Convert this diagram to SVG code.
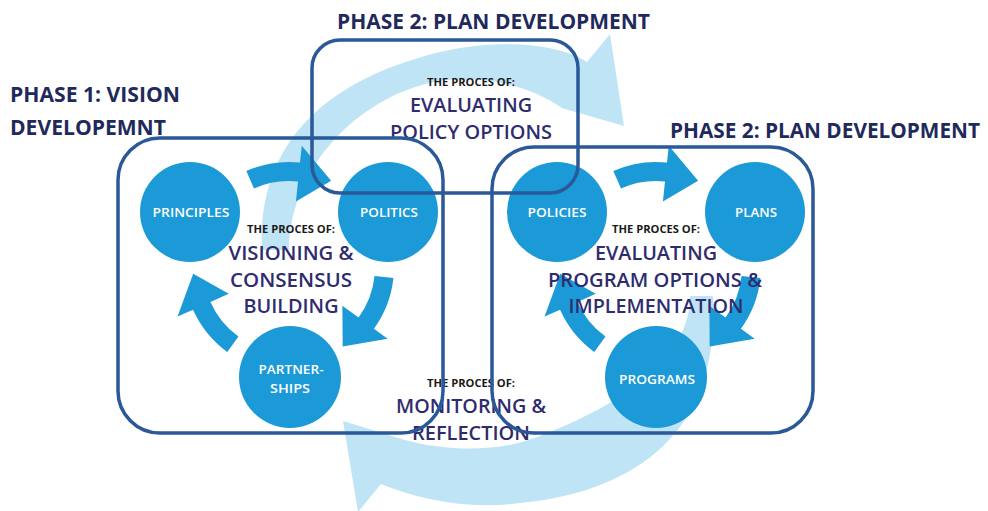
<svg xmlns="http://www.w3.org/2000/svg" width="988" height="511" viewBox="0 0 988 511">
<style>
.band{fill:#bfe4f6}
.arr{fill:#1b9ad7}
.circ{fill:#1b9ad7}
.clab{font-family:'Open Sans','Liberation Sans',sans-serif;font-weight:600;font-size:13px;fill:#ffffff}
.head{font-family:'Open Sans','Liberation Sans',sans-serif;font-weight:bold;font-size:21px;fill:#1f2a5c}
.small{font-family:'Open Sans','Liberation Sans',sans-serif;font-weight:bold;font-size:10.5px;fill:#1a1a1a}
.proc{font-family:'Open Sans','Liberation Sans',sans-serif;font-weight:600;font-size:20px;fill:#2e2c6e}
.box{fill:none;stroke:#2a5898;stroke-width:3.5}
</style>
<defs>
<path id="cyc" d="M -42.7,-95.9 A 105 105 0 0 1 11.0,-104.4 L 12.8,-121.3 L 42.1,-86.3 L 6.9,-65.6 L 9.0,-85.5 A 86 86 0 0 0 -35.0,-78.6 Z"/>
</defs>
<rect x="0" y="0" width="988" height="511" fill="#ffffff"/>
<g id="connectors">
<path class="band" d="M 262,250 C 258,160 305,85 440,52 C 500,38 560,44 587,62 L 610,34 L 624,126 L 562,108 C 530,86 490,76 445,80 C 362,92 290,165 289,250 Z"/>
<path class="band" d="M 713,296 C 720,420 650,490 520,503 C 470,510 420,500 381,484 L 358,512 L 343,421 L 405,440 C 450,452 500,452 540,436 C 620,405 690,360 690,296 Z"/>
<use href="#cyc" class="arr" transform="translate(289,267)"/>
<use href="#cyc" class="arr" transform="translate(289,267) rotate(120)"/>
<use href="#cyc" class="arr" transform="translate(289,267) rotate(240)"/>
<use href="#cyc" class="arr" transform="translate(656,267)"/>
<use href="#cyc" class="arr" transform="translate(656,267) rotate(120)"/>
<use href="#cyc" class="arr" transform="translate(656,267) rotate(240)"/>
</g>
<g id="principles"><circle class="circ" cx="190" cy="212" r="50"/><text class="clab" x="191" y="217" text-anchor="middle" textLength="77" lengthAdjust="spacingAndGlyphs">PRINCIPLES</text></g>
<g id="politics"><circle class="circ" cx="388" cy="212" r="50"/><text class="clab" x="389" y="217" text-anchor="middle" textLength="58" lengthAdjust="spacingAndGlyphs">POLITICS</text></g>
<g id="partnerships"><circle class="circ" cx="290" cy="377" r="51"/><text class="clab" x="291" y="374" text-anchor="middle" textLength="65" lengthAdjust="spacingAndGlyphs">PARTNER-</text><text class="clab" x="290" y="393" text-anchor="middle" textLength="40" lengthAdjust="spacingAndGlyphs">SHIPS</text></g>
<g id="policies"><circle class="circ" cx="557" cy="212" r="50"/><text class="clab" x="557" y="217" text-anchor="middle" textLength="59" lengthAdjust="spacingAndGlyphs">POLICIES</text></g>
<g id="plans"><circle class="circ" cx="755" cy="212" r="50"/><text class="clab" x="756" y="217" text-anchor="middle" textLength="42" lengthAdjust="spacingAndGlyphs">PLANS</text></g>
<g id="programs"><circle class="circ" cx="656" cy="377" r="51"/><text class="clab" x="657" y="384" text-anchor="middle" textLength="76" lengthAdjust="spacingAndGlyphs">PROGRAMS</text></g>
<g id="process-visioning">
<text class="small" x="291" y="233" text-anchor="middle" textLength="88" lengthAdjust="spacingAndGlyphs">THE PROCES OF:</text>
<text class="proc" x="291" y="260" text-anchor="middle" textLength="125" lengthAdjust="spacingAndGlyphs">VISIONING &amp;</text>
<text class="proc" x="291" y="287" text-anchor="middle" textLength="122" lengthAdjust="spacingAndGlyphs">CONSENSUS</text>
<text class="proc" x="291" y="313" text-anchor="middle" textLength="95" lengthAdjust="spacingAndGlyphs">BUILDING</text>
</g>
<g id="process-policy">
<text class="small" x="471" y="86" text-anchor="middle" textLength="88" lengthAdjust="spacingAndGlyphs">THE PROCES OF:</text>
<text class="proc" x="471" y="112" text-anchor="middle" textLength="122" lengthAdjust="spacingAndGlyphs">EVALUATING</text>
<text class="proc" x="471" y="139" text-anchor="middle" textLength="162" lengthAdjust="spacingAndGlyphs">POLICY OPTIONS</text>
</g>
<g id="process-program">
<text class="small" x="656" y="233" text-anchor="middle" textLength="88" lengthAdjust="spacingAndGlyphs">THE PROCES OF:</text>
<text class="proc" x="656" y="260" text-anchor="middle" textLength="122" lengthAdjust="spacingAndGlyphs">EVALUATING</text>
<text class="proc" x="655" y="287" text-anchor="middle" textLength="214" lengthAdjust="spacingAndGlyphs">PROGRAM OPTIONS &amp;</text>
<text class="proc" x="656" y="313" text-anchor="middle" textLength="175" lengthAdjust="spacingAndGlyphs">IMPLEMENTATION</text>
</g>
<g id="process-monitoring">
<text class="small" x="471" y="387" text-anchor="middle" textLength="88" lengthAdjust="spacingAndGlyphs">THE PROCES OF:</text>
<text class="proc" x="471" y="413" text-anchor="middle" textLength="150" lengthAdjust="spacingAndGlyphs">MONITORING &amp;</text>
<text class="proc" x="471" y="440" text-anchor="middle" textLength="118" lengthAdjust="spacingAndGlyphs">REFLECTION</text>
</g>
<g id="phase1">
<rect class="box" x="118" y="138" width="325" height="295" rx="42"/>
<text class="head" x="10" y="102" textLength="170" lengthAdjust="spacingAndGlyphs">PHASE 1: VISION</text>
<text class="head" x="10" y="135" textLength="156" lengthAdjust="spacingAndGlyphs">DEVELOPEMNT</text>
</g>
<g id="phase2-policy">
<rect class="box" x="312" y="40" width="266" height="153" rx="28"/>
<text class="head" x="337" y="29" textLength="313" lengthAdjust="spacingAndGlyphs">PHASE 2: PLAN DEVELOPMENT</text>
</g>
<g id="phase2-plan">
<rect class="box" x="492" y="147" width="321" height="286" rx="42"/>
<text class="head" x="670" y="138" textLength="310" lengthAdjust="spacingAndGlyphs">PHASE 2: PLAN DEVELOPMENT</text>
</g>
</svg>
